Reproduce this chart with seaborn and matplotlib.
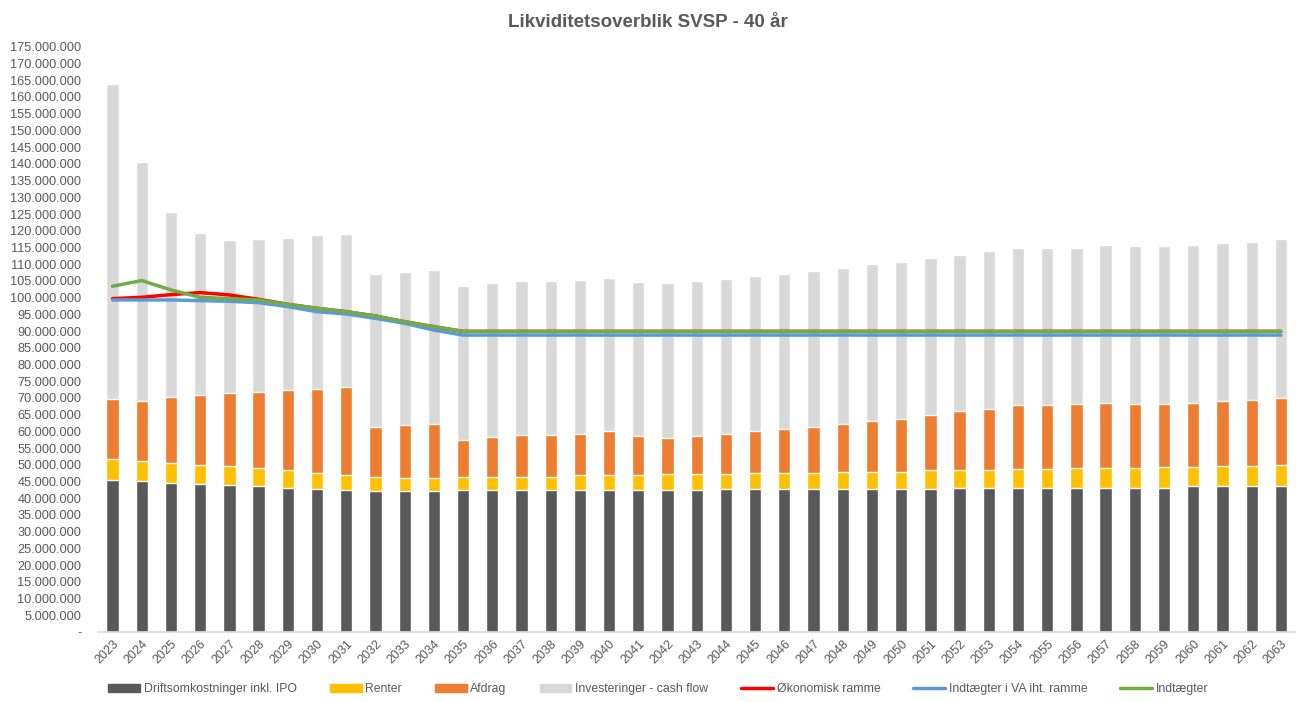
import numpy as np
import pandas as pd
import seaborn as sns
import matplotlib.pyplot as plt
from matplotlib.ticker import FuncFormatter, MultipleLocator
from matplotlib.patches import Patch
from matplotlib.lines import Line2D

# values in mio. kr
years = [str(y) for y in range(2023, 2064)]

drift = [45.5, 45.1, 44.7, 44.3, 43.9, 43.6, 43.2, 42.9, 42.5, 42.2, 42.2, 42.2, 42.5, 42.5,
         42.5, 42.5, 42.5, 42.5, 42.5, 42.5, 42.5, 42.9, 42.9, 42.9, 42.9, 42.9, 42.9, 42.9,
         42.9, 43.2, 43.2, 43.2, 43.2, 43.2, 43.2, 43.2, 43.2, 43.6, 43.6, 43.6, 43.6]
renter = [6.2, 6.1, 5.9, 5.7, 5.8, 5.5, 5.1, 4.8, 4.5, 4.3, 3.9, 3.9, 4.0, 4.0,
          4.0, 4.0, 4.4, 4.4, 4.4, 4.7, 4.7, 4.3, 4.7, 4.7, 4.7, 5.0, 5.0, 5.0,
          5.4, 5.1, 5.1, 5.4, 5.4, 5.8, 5.8, 5.8, 6.2, 5.8, 6.1, 6.1, 6.4]
afdrag = [17.9, 17.8, 19.6, 20.8, 21.8, 22.8, 24.0, 24.9, 26.3, 14.8, 15.8, 16.1, 10.9, 11.7,
          12.4, 12.4, 12.4, 13.1, 11.7, 10.7, 11.4, 12.1, 12.4, 13.1, 13.8, 14.3, 15.3, 15.9,
          16.6, 17.8, 18.5, 19.3, 19.3, 19.3, 19.6, 19.3, 18.9, 19.2, 19.3, 19.7, 20.1]
invest = [94.3, 71.7, 55.5, 48.5, 45.7, 45.5, 45.6, 46.0, 45.7, 45.9, 45.7, 46.0, 46.2, 46.1,
          46.1, 46.1, 46.0, 46.0, 46.0, 46.4, 46.4, 46.3, 46.4, 46.4, 46.7, 46.6, 46.8, 46.9,
          46.8, 46.7, 47.1, 47.0, 47.0, 46.6, 47.0, 47.0, 47.0, 47.0, 47.4, 47.3, 47.3]

okonomisk = [99.7, 100.1, 100.9, 101.5, 100.8, 99.5, 98.0, 96.8, 95.8, 94.5, 92.8, 91.3, 89.9,
             89.9, 89.9, 89.9, 89.9, 89.9, 89.9, 89.9, 89.9, 89.9, 89.9, 89.9, 89.9, 89.9, 89.9,
             89.9, 89.9, 89.9, 89.9, 89.9, 89.9, 89.9, 89.9, 89.9, 89.9, 89.9, 89.9, 89.9, 89.9]
indt_va = [99.3, 99.3, 99.3, 99.1, 98.9, 98.5, 97.3, 95.8, 95.1, 93.8, 92.3, 90.3, 88.8,
           88.8, 88.8, 88.8, 88.8, 88.8, 88.8, 88.8, 88.8, 88.8, 88.8, 88.8, 88.8, 88.8, 88.8,
           88.8, 88.8, 88.8, 88.8, 88.8, 88.8, 88.8, 88.8, 88.8, 88.8, 88.8, 88.8, 88.8, 88.8]
indt = [103.4, 105.1, 102.3, 100.1, 99.7, 99.3, 98.0, 96.8, 95.8, 94.5, 92.8, 91.3, 89.9,
        89.9, 89.9, 89.9, 89.9, 89.9, 89.9, 89.9, 89.9, 89.9, 89.9, 89.9, 89.9, 89.9, 89.9,
        89.9, 89.9, 89.9, 89.9, 89.9, 89.9, 89.9, 89.9, 89.9, 89.9, 89.9, 89.9, 89.9, 89.9]

bar_names = ['Driftsomkostninger inkl. IPO', 'Renter', 'Afdrag', 'Investeringer - cash flow']
bar_colors = ['#595959', '#FFC000', '#ED7D31', '#D9D9D9']
line_names = ['Økonomisk ramme', 'Indtægter i VA iht. ramme', 'Indtægter']
line_colors = ['#FF0000', '#5B9BD5', '#70AD47']

df = pd.DataFrame({'year': years,
                   bar_names[0]: drift, bar_names[1]: renter,
                   bar_names[2]: afdrag, bar_names[3]: invest}).set_index('year') * 1e6
cum = df.cumsum(axis=1)

sns.set_theme(style='white')
plt.rcParams['font.family'] = ['Liberation Sans', 'DejaVu Sans']
text_col = '#595959'

fig = plt.figure(figsize=(12.96, 7.02), dpi=100)
ax = fig.add_axes([0.0756, 0.0997, 0.924, 0.8336])

# stacked bars: draw the cumulative totals from the top down
for name, col in zip(bar_names[::-1], bar_colors[::-1]):
    sns.barplot(x=cum.index, y=cum[name], color=col, width=0.42, saturation=1, ax=ax)

xpos = np.arange(len(years))
for vals, col in zip([okonomisk, indt_va, indt], line_colors):
    sns.lineplot(x=xpos, y=np.array(vals) * 1e6, color=col, linewidth=2.5, ax=ax)

ax.set_xlim(-0.5, len(years) - 0.5)
ax.set_ylim(0, 175e6)
ax.yaxis.set_major_locator(MultipleLocator(5e6))
ax.yaxis.set_major_formatter(FuncFormatter(
    lambda v, p: '-' if v == 0 else f'{v:,.0f}'.replace(',', '.')))
ax.set_xlabel('')
ax.set_ylabel('')
for s in ['top', 'right', 'left']:
    ax.spines[s].set_visible(False)
ax.spines['bottom'].set_color('#D9D9D9')
ax.tick_params(axis='y', length=0, pad=12, labelsize=9.2, labelcolor=text_col)
ax.tick_params(axis='x', length=0, pad=4, labelsize=9, labelcolor=text_col)
plt.setp(ax.get_xticklabels(), rotation=45, ha='right', rotation_mode='anchor')

fig.text(0.5, 0.968, 'Likviditetsoverblik SVSP - 40 år', ha='center', va='center',
         fontsize=13.5, fontweight='bold', color=text_col)

handles = [Patch(color=c, label=n) for n, c in zip(bar_names, bar_colors)]
handles += [Line2D([], [], color=c, linewidth=2.5, label=n) for n, c in zip(line_names, line_colors)]
fig.legend(handles=handles, loc='center', bbox_to_anchor=(0.508, 0.018), ncol=7, frameon=False,
           fontsize=8.8, labelcolor=text_col, handlelength=2.6, handleheight=0.7,
           columnspacing=2.7, handletextpad=0.3)

fig.savefig('out.png', dpi=100)
